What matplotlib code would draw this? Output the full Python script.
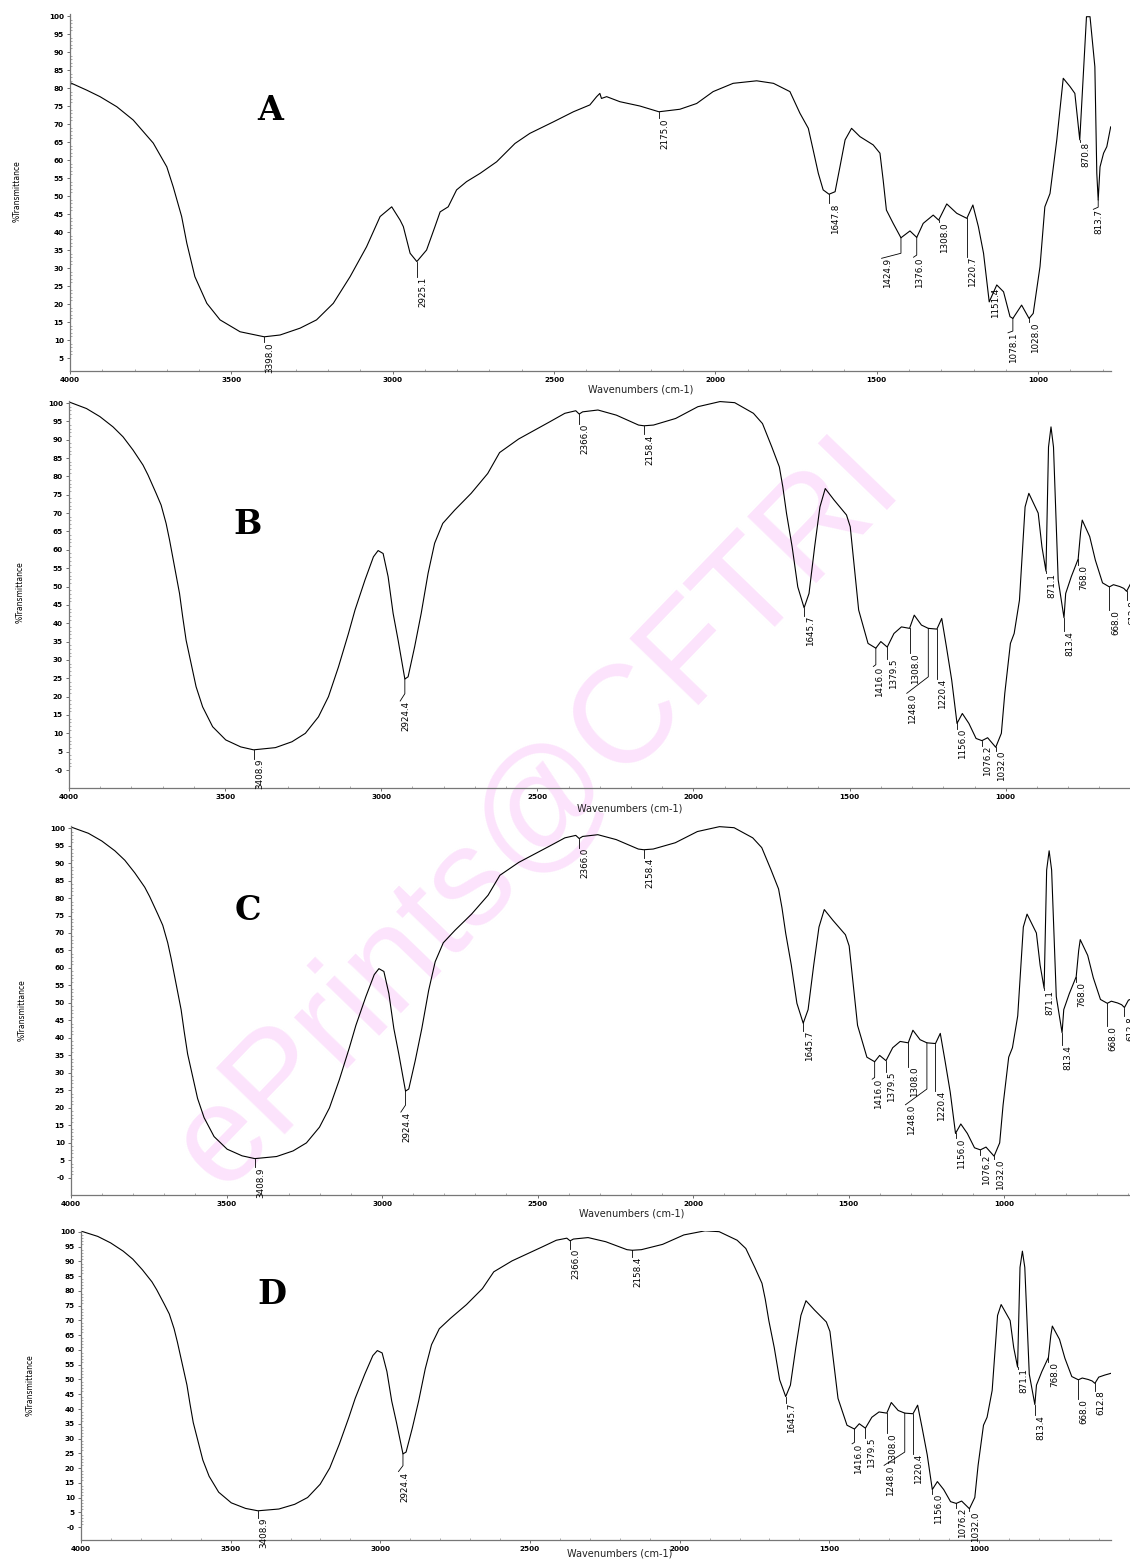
import numpy as np
from matplotlib import pyplot as plt

W, H = 1130, 1560
narrow = ['Liberation Sans Narrow', 'DejaVu Sans']

# sample A: wavenumber (cm-1) and % transmittance
a_wn = [4000, 3948, 3907, 3855, 3804, 3773, 3742, 3700, 3680, 3654, 3638, 3613, 3576, 3535,
        3473, 3398, 3349, 3287, 3236, 3184, 3132, 3081, 3039, 3003, 2977, 2967, 2946, 2925.1,
        2895, 2869, 2853, 2828, 2802, 2771, 2729, 2678, 2621, 2575, 2502, 2440, 2389, 2368,
        2358, 2353, 2337, 2296, 2234, 2175, 2110, 2058, 2007, 1945, 1872, 1820, 1769, 1738,
        1712, 1697, 1681, 1666, 1647.8, 1629, 1614, 1598, 1578, 1552, 1511, 1490, 1480, 1470,
        1449, 1424.9, 1397, 1376, 1356, 1325, 1308, 1283, 1252, 1220.7, 1202, 1185, 1169,
        1151.4, 1128, 1107, 1087, 1078.1, 1051, 1028, 1015, 994, 979, 963, 942, 922, 901, 886,
        870.8, 850, 839, 824, 818, 813.7, 808, 797, 787, 775]
a_t = [81.5, 79.4, 77.6, 74.8, 71.1, 67.9, 64.7, 58.1, 52.5, 44.3, 36.9, 27.6, 20.2, 15.6,
       12.3, 10.9, 11.4, 13.3, 15.6, 20.2, 27.6, 35.9, 44.3, 47.0, 43.3, 41.5, 34.1, 31.8,
       35.0, 41.5, 45.6, 47.0, 51.7, 54.0, 56.3, 59.5, 64.6, 67.4, 70.6, 73.4, 75.3, 77.6,
       78.5, 77.1, 77.6, 76.2, 75.0, 73.4, 74.1, 75.7, 79.0, 81.3, 82.0, 81.3, 79.0, 73.0,
       68.8, 62.8, 56.3, 51.7, 50.5, 51.2, 58.1, 65.6, 68.8, 66.5, 64.2, 61.9, 54.4, 46.1,
       42.4, 38.4, 40.3, 38.5, 42.4, 44.7, 43.3, 47.8, 45.2, 43.8, 47.5, 41.5, 34.1,
       20.6, 25.3, 23.4, 16.5, 16.0, 19.7, 16.0, 17.4, 30.4, 47.0, 50.7, 65.6, 82.7, 80.4, 78.5,
       65.6, 99.8, 99.8, 85.9, 56.3, 48.9, 58.1, 61.9, 63.7, 69.2]
a_peaks = [3398.0, 2925.1, 2175.0, 1647.8, 1424.9, 1376.0, 1308.0, 1220.7, 1151.4, 1078.1,
           1028.0, 870.8, 813.7]

# samples B, C and D give the same spectrum
bcd_wn = [4000, 3944, 3901, 3859, 3827, 3795, 3763, 3747, 3721, 3705, 3689, 3678, 3662, 3646,
          3636, 3625, 3609, 3593, 3572, 3540, 3498, 3450, 3408.9, 3339, 3286, 3243, 3201, 3169,
          3137, 3105, 3084, 3052, 3025, 3010, 2994, 2978, 2962, 2946, 2930, 2924.4, 2914, 2893,
          2872, 2850, 2829, 2803, 2765, 2712, 2659, 2621, 2560, 2500, 2460, 2412, 2377, 2366,
          2355, 2306, 2247, 2176, 2158.4, 2128, 2057, 1986, 1915, 1868, 1808, 1779, 1749, 1725,
          1714, 1702, 1684, 1666, 1645.7, 1630, 1612, 1595, 1578, 1550, 1510, 1498, 1483, 1471,
          1441, 1416, 1400, 1379.5, 1358, 1334, 1308, 1293, 1270, 1248, 1220.4, 1205, 1190,
          1173, 1156, 1139, 1118, 1095, 1076.2, 1058, 1032, 1014, 1003, 985, 973, 956, 938, 926,
          896, 884, 871.1, 863, 855, 847, 832, 813.4, 808, 790, 775, 768, 760, 755, 731, 713,
          690, 668, 655, 635, 622, 612.8, 600, 580, 559]
bcd_t = [100.3, 98.5, 96.3, 93.5, 90.8, 87.2, 83.1, 80.4, 75.4, 72.2, 67.2, 62.7, 55.4, 48.1,
         41.8, 35.4, 29.1, 22.7, 17.2, 11.8, 8.2, 6.3, 5.5, 6.1, 7.7, 10.0, 14.5, 20.0,
         28.1, 37.2, 43.6, 51.8, 58.1, 59.8, 59.0, 52.7, 42.7, 35.4, 27.5, 24.8, 25.4, 33.6,
         42.7, 53.6, 61.8, 67.2, 70.8, 75.4, 80.8, 86.5, 90.2, 93.0, 94.9, 97.2, 97.9, 97.0,
         97.6, 98.1, 96.7, 94.0, 93.8, 94.0, 95.8, 99.0, 100.4, 100.1, 97.2, 94.4, 88.0, 82.6,
         77.2, 69.9, 60.8, 49.9, 44.2, 48.1, 60.8, 71.7, 76.7, 73.6, 69.5, 66.3, 53.6, 43.6,
         34.5, 33.2, 35.0, 33.5, 37.2, 39.0, 38.6, 42.2, 39.5, 38.6, 38.4, 41.3, 33.6,
         24.5, 12.7, 15.4, 12.7, 8.6, 8.0, 8.8, 6.2, 10.0, 20.9, 34.5, 37.2, 46.3, 71.7, 75.4,
         70.0, 60.8, 54.2, 88.0, 93.5, 88.0, 51.8, 41.5, 48.1, 52.7, 56.0, 57.5, 65.0, 68.1, 63.6, 57.2,
         51.0, 49.9, 50.5, 50.0, 49.5, 48.7, 50.8, 51.5, 52.1]
bcd_peaks = [3408.9, 2924.4, 2366.0, 2158.4, 1645.7, 1416.0, 1379.5, 1308.0, 1248.0, 1220.4,
             1156.0, 1076.2, 1032.0, 871.1, 813.4, 768.0, 668.0, 612.8]

# leader line for each peak label: drop below the curve, sideways shift (cm-1), extra slant
a_leaders = [(1.5, 0, 0), (4.2, 0, 0), (1.8, 0, 0), (2.5, 0, 0), (4.3, 60, 1.4), (4.9, 10, 0.6),
             (0.5, 0, 0), (10.7, 0, 0), (-4.0, 0, 0), (3.5, 15, 0.5), (1.0, 0, 0), (0.5, 0, 0),
             (2.0, 15, 0.6)]
bcd_leaders = [(2.4, 0, 0), (4.0, 15, 2.0), (2.7, 0, 0), (2.3, 0, 0), (2.2, 0, 0), (4.5, 8, 0.5),
               (3.2, 0, 0), (6.8, 0, 0), (13.2, 69, 4.5), (13.6, 0, 0), (1.4, 0, 0), (1.4, 0, 0),
               (0.9, 0, 0), (0.5, 0, 0), (3.6, 0, 0), (1.5, 0, 0), (6.4, 0, 0), (2.5, 0, 0)]

fig = plt.figure(figsize=(W / 100, H / 100), dpi=100)

# watermark sits under the spectra
fig.text(537 / W, 1 - 815 / H, 'ePrints@CFTRI', rotation=46, rotation_mode='anchor',
         ha='center', va='center', fontsize=100, color='#fce3fc',
         family=['Liberation Sans', 'DejaVu Sans'], zorder=-1)


def px(x, y):
    return x / W, 1 - y / H


def panel(left, right, top, bottom, xlim, ylim, wn, t, peaks, leaders, ylo,
          letter, letter_xy, ylab_xy, xlab_xy):
    ax = fig.add_axes([left / W, 1 - bottom / H, (right - left) / W, (bottom - top) / H])
    ax.patch.set_alpha(0)
    ax.plot(wn, t, color='black', lw=0.8)
    ax.set_xlim(*xlim)
    ax.set_ylim(*ylim)
    for s in ['top', 'right']:
        ax.spines[s].set_visible(False)
    for s in ['left', 'bottom']:
        ax.spines[s].set_color('#777777')
        ax.spines[s].set_linewidth(0.9)

    ax.set_xticks(np.arange(4000, 999, -500))
    ax.set_xticks(np.arange(4000, xlim[1], -100), minor=True)
    yt = np.arange(ylo, 101, 5)
    ylabels = [str(v) for v in yt]
    if ylo == 0:
        ylabels[0] = '-0'
    ax.set_yticks(yt, ylabels)
    ax.set_yticks(np.arange(ylo, 101, 1), minor=True)
    ax.tick_params(which='major', direction='out', length=2.5, width=0.6, color='#555555',
                   labelsize=5.2, pad=2)
    ax.tick_params(which='minor', direction='in', length=1.4, width=0.5, color='#888888')
    for lab in ax.get_xticklabels() + ax.get_yticklabels():
        lab.set_fontweight('bold')

    rwn, rt = wn[::-1], t[::-1]
    for p, (drop, shift, slant) in zip(peaks, leaders):
        y0 = np.interp(p, rwn, rt)
        if drop > 0:
            xs, ys = [p, p], [y0, y0 - drop]
            if shift or slant:
                xs.append(p + shift)
                ys.append(y0 - drop - slant)
            ax.plot(xs, ys, color='black', lw=0.6)
            end = (xs[-1], ys[-1])
        else:
            end = (p, y0 - drop)
        ax.annotate(f'{p:.1f}', xy=end, xytext=(1.5, 0), textcoords='offset pixels',
                    rotation=90, ha='left', va='top', fontsize=6.3, family=narrow)

    fig.text(*px(*letter_xy), letter, ha='center', va='center', fontsize=24,
             fontweight='bold', family='DejaVu Serif')
    fig.text(*px(*ylab_xy), '%Transmittance', rotation=90, ha='center', va='center',
             fontsize=5.5, family=narrow)
    fig.text(*px(*xlab_xy), 'Wavenumbers (cm-1)', ha='center', va='center',
             fontsize=7, color='#222222')
    return ax


panel(70, 1111, 14.2, 371, (4000, 774), (1.4, 100.5), a_wn, a_t, a_peaks, a_leaders, 5,
      'A', (270, 110), (17, 191), (641, 389))
panel(69, 1130, 401.2, 788, (4000, 602), (-4.9, 100.5), bcd_wn, bcd_t, bcd_peaks, bcd_leaders, 0,
      'B', (248, 525), (20, 592), (630, 808))
panel(71, 1130, 826.3, 1195, (4000, 595), (-4.9, 100.5), bcd_wn, bcd_t, bcd_peaks, bcd_leaders, 0,
      'C', (248, 910), (22, 1010), (632, 1213))
panel(81, 1111, 1230.5, 1540, (4000, 559), (-4.4, 100.5), bcd_wn, bcd_t, bcd_peaks, bcd_leaders, 0,
      'D', (272, 1295), (30, 1385), (620, 1554))

fig.savefig('out.png', dpi=100)
